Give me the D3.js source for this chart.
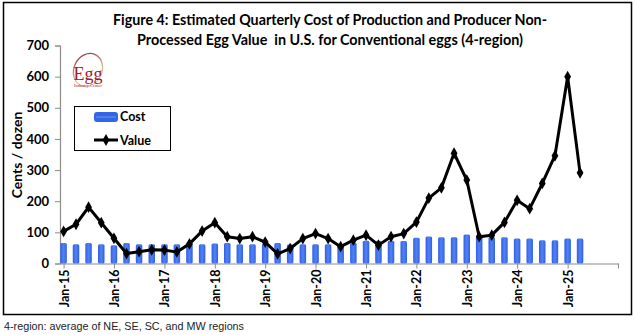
<!DOCTYPE html>
<html>
<head>
<meta charset="utf-8">
<script src="https://cdn.jsdelivr.net/npm/d3@7"></script>
<style>
  html, body { margin: 0; padding: 0; background: #fff; }
  svg { display: block; }
  text { white-space: pre; }
</style>
</head>
<body>
<svg id="chart" width="635" height="335"></svg>
<script>
// Quarterly series, Jan-15 through Apr-25 (cents per dozen)
const quarters = [
  "2015-01","2015-04","2015-07","2015-10",
  "2016-01","2016-04","2016-07","2016-10",
  "2017-01","2017-04","2017-07","2017-10",
  "2018-01","2018-04","2018-07","2018-10",
  "2019-01","2019-04","2019-07","2019-10",
  "2020-01","2020-04","2020-07","2020-10",
  "2021-01","2021-04","2021-07","2021-10",
  "2022-01","2022-04","2022-07","2022-10",
  "2023-01","2023-04","2023-07","2023-10",
  "2024-01","2024-04","2024-07","2024-10",
  "2025-01","2025-04"
];
const cost = [
  66, 62, 66, 62,
  59, 66, 62, 62,
  62, 62, 64, 62,
  64, 66, 62, 62,
  64, 66, 61, 62,
  62, 62, 62, 67,
  73, 73, 73, 72,
  83, 87, 84, 84,
  93, 86, 85, 84,
  80, 80, 75, 75,
  80, 80
];
const value = [
  103, 126, 181, 131,
  81, 32, 38, 44,
  43, 37, 63, 104,
  131, 86, 80, 86,
  69, 31, 48, 80,
  96, 80, 54, 75,
  91, 59, 86, 96,
  133, 210, 243, 354,
  268, 86, 91, 132,
  203, 176, 257, 346,
  600, 291
];
const yTicks = [0, 100, 200, 300, 400, 500, 600, 700];
const yearTicks = [2015,2016,2017,2018,2019,2020,2021,2022,2023,2024,2025,2026];
const titleLines = [
  "Figure 4: Estimated Quarterly Cost of Production and Producer Non-",
  "Processed Egg Value  in U.S. for Conventional eggs (4-region)"
];
const seriesNames = ["Cost", "Value"];
const footnote = "4-region: average of NE, SE, SC, and MW regions";

const parse = d3.timeParse("%Y-%m");
const dates = quarters.map(parse);

const svg = d3.select("#chart");
const labelFont = "Lato, 'Open Sans', sans-serif";

// Outer frame
svg.append("rect")
  .attr("x", 3.5).attr("y", 2.5).attr("width", 628).attr("height", 312)
  .attr("fill", "#fff").attr("stroke", "#000").attr("stroke-width", 1.5);

// Title
svg.append("g").selectAll("text").data(titleLines).join("text")
  .attr("x", 330).attr("y", (d, i) => 25 + i * 20)
  .attr("text-anchor", "middle")
  .attr("font-family", labelFont).attr("font-weight", "bold")
  .attr("font-size", 15).attr("fill", "#000")
  .attr("textLength", (d, i) => i === 0 ? 434 : 386)
  .attr("lengthAdjust", "spacingAndGlyphs")
  .text(d => d);

// Scales
const x = d3.scaleTime()
  .domain([new Date(2014, 11, 6), new Date(2026, 0, 1)])
  .range([60, 618]);
const y = d3.scaleLinear().domain([0, 700]).range([263.5, 45.5]);

// Bar gradient: darker edges, lighter centre stripe
const defs = svg.append("defs");
const grad = defs.append("linearGradient").attr("id", "barGrad")
  .attr("x1", "0%").attr("x2", "100%").attr("y1", "0%").attr("y2", "0%");
grad.append("stop").attr("offset", "0%").attr("stop-color", "#2f5fe6");
grad.append("stop").attr("offset", "45%").attr("stop-color", "#4f7ff0");
grad.append("stop").attr("offset", "55%").attr("stop-color", "#4f7ff0");
grad.append("stop").attr("offset", "100%").attr("stop-color", "#2f5fe6");

// Axes
const yAxis = d3.axisLeft(y).tickValues(yTicks).tickSize(5).tickPadding(6);
const gy = svg.append("g").attr("transform", "translate(60,0)").call(yAxis);
gy.select(".domain").attr("stroke", "#8c8c8c").attr("stroke-width", 1.2);
gy.selectAll(".tick line").attr("stroke", "#8c8c8c");
gy.selectAll(".tick text")
  .attr("font-family", labelFont).attr("font-weight", "bold")
  .attr("font-size", 13).attr("fill", "#000");

const fmt = d3.timeFormat("Jan-%y");
const xAxis = d3.axisBottom(x)
  .tickValues(yearTicks.map(yr => new Date(yr, 0, 1)))
  .tickSize(5).tickSizeOuter(0)
  .tickFormat(d => d.getFullYear() === 2026 ? "" : fmt(d));
const gx = svg.append("g").attr("transform", "translate(0,263.5)").call(xAxis);
gx.select(".domain").attr("stroke", "#8c8c8c").attr("stroke-width", 1.2);
gx.selectAll(".tick line").attr("stroke", "#8c8c8c");
gx.selectAll(".tick text")
  .attr("font-family", labelFont).attr("font-weight", "bold")
  .attr("font-size", 12.5).attr("fill", "#000")
  .attr("text-anchor", "end")
  .attr("transform", "rotate(-90)")
  .attr("x", -6).attr("y", 0).attr("dy", "0.36em");

// Cost bars
const barW = 6.5;
svg.append("g").selectAll("rect").data(cost).join("rect")
  .attr("x", (d, i) => x(dates[i]) - barW / 2)
  .attr("y", d => y(d))
  .attr("width", barW)
  .attr("height", d => y(0) - y(d))
  .attr("rx", 1.5)
  .attr("fill", "url(#barGrad)");

// Value line with diamond markers
const line = d3.line().x((d, i) => x(dates[i])).y(d => y(d));
svg.append("path").datum(value)
  .attr("d", line)
  .attr("fill", "none").attr("stroke", "#000")
  .attr("stroke-width", 3).attr("stroke-linejoin", "round");
const diamond = d3.symbol().type(d3.symbolDiamond).size(40);
svg.append("g").selectAll("path").data(value).join("path")
  .attr("d", diamond)
  .attr("transform", (d, i) => `translate(${x(dates[i])},${y(d)})`)
  .attr("fill", "#000");

// Legend
const lg = svg.append("g");
lg.append("rect").attr("x", 74.5).attr("y", 106.5).attr("width", 96).attr("height", 44)
  .attr("fill", "#fff").attr("stroke", "#000").attr("stroke-width", 1);
lg.append("rect").attr("x", 94).attr("y", 112).attr("width", 24).attr("height", 10)
  .attr("rx", 3).attr("fill", "#3366e6");
lg.append("line").attr("x1", 96).attr("x2", 116).attr("y1", 117).attr("y2", 117)
  .attr("stroke", "#5a88f0").attr("stroke-width", 1.5);
lg.append("line").attr("x1", 94).attr("x2", 118).attr("y1", 140).attr("y2", 140)
  .attr("stroke", "#000").attr("stroke-width", 3);
lg.append("path").attr("d", diamond).attr("transform", "translate(106,140)").attr("fill", "#000");
lg.selectAll("text.lbl").data(seriesNames).join("text").attr("class", "lbl")
  .attr("x", 120).attr("y", (d, i) => 121 + i * 23.5)
  .attr("font-family", labelFont).attr("font-weight", "bold")
  .attr("font-size", 12.5).attr("fill", "#000")
  .text(d => d);

// Y-axis title
svg.append("text")
  .attr("transform", "translate(22,155) rotate(-90)")
  .attr("text-anchor", "middle")
  .attr("font-family", labelFont).attr("font-weight", "bold")
  .attr("font-size", 14).attr("fill", "#000")
  .text("Cents / dozen");

// Egg Industry Center logo
const logo = svg.append("g");
const lgGrad = defs.append("linearGradient").attr("id", "ovalGrad")
  .attr("x1", "0%").attr("x2", "100%").attr("y1", "0%").attr("y2", "100%");
lgGrad.append("stop").attr("offset", "0%").attr("stop-color", "#8a1a3a");
lgGrad.append("stop").attr("offset", "60%").attr("stop-color", "#e0b894");
lgGrad.append("stop").attr("offset", "100%").attr("stop-color", "#f4e4d0");
logo.append("ellipse").attr("cx", 88).attr("cy", 70).attr("rx", 14).attr("ry", 17)
  .attr("transform", "rotate(25,88,70)")
  .attr("fill", "none").attr("stroke", "url(#ovalGrad)").attr("stroke-width", 1.3);
logo.append("text").attr("x", 88).attr("y", 80)
  .attr("text-anchor", "middle")
  .attr("font-family", "'Liberation Serif', 'DejaVu Serif', serif")
  .attr("font-size", 18).attr("fill", "#9b1b35")
  .text("Egg");
logo.append("text").attr("x", 88).attr("y", 87)
  .attr("text-anchor", "middle")
  .attr("font-family", "'Liberation Serif', serif")
  .attr("font-size", 4.5).attr("fill", "#9b1b35")
  .text("Industry Center");

// Footnote
svg.append("text")
  .attr("x", 4).attr("y", 330)
  .attr("font-family", "'Liberation Sans', Arial, sans-serif")
  .attr("font-size", 10.5).attr("fill", "#222")
  .attr("textLength", 240).attr("lengthAdjust", "spacingAndGlyphs")
  .text(footnote);
</script>
</body>
</html>
